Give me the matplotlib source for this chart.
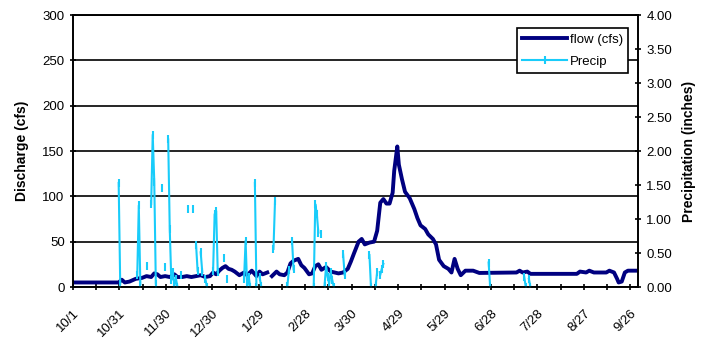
import matplotlib
matplotlib.use("Agg")
import matplotlib.pyplot as plt
import numpy as np

plt.rcParams['font.family'] = ['Liberation Sans', 'DejaVu Sans']

nan = np.nan

# daily flow, water year starting 10/1 (day 0)
flow_day = [0, 29, 31, 33, 36, 40, 44, 47, 50, 52, 54, 56, 59, 62, 65, 67, 70, 73, 76, 79,
            82, 85, 88, 90, 92, 94, 96, 98, 100, 102, 104, 107, 110, 112, 115, 118, 120, 122, 125,
            126.5,
            128, 131, 133, 136, 138, 140, 142, 145, 147, 149, 152, 154, 156, 158, 160, 163, 166,
            171, 174, 177, 179, 181, 184, 186, 188, 191, 194, 196, 198, 200, 202, 204, 206, 207,
            209, 210, 212, 214, 217, 220, 222, 224, 227, 229, 232, 234, 236, 239, 242, 244, 246,
            248, 250, 253, 258, 262, 286, 288, 290, 293, 295, 325, 327, 331, 333, 336, 344, 346,
            349, 351, 352, 354, 356, 358, 364]
flow_cfs = [5, 5, 8, 5, 6, 9, 10, 12, 11, 15, 14, 11, 12, 11, 14, 11, 11, 12, 11, 12,
            13, 11, 12, 16, 14, 18, 21, 23, 20, 19, 17, 13, 16, 13, 18, 12, 17, 14, 16,
            nan,
            12, 17, 14, 13, 16, 26, 29, 31, 24, 21, 14, 15, 23, 25, 19, 22, 17,
            15, 16, 20, 28, 37, 50, 53, 47, 49, 50, 62, 93, 97, 92, 92, 104, 128,
            155, 135, 119, 105, 98, 86, 76, 68, 64, 58, 53, 47, 30, 23, 20, 16, 31,
            20, 13, 18, 18, 15.5, 16, 18, 16, 17, 14.5, 14.5, 17, 16, 18, 16, 16, 18,
            16, 9, 5, 6, 16, 18, 18]

# precipitation, blank days left as gaps
precip_day = [29, 30, nan, 41, 42, 43, nan, 47, nan, 50, 51, 52, 53, nan, 57, nan, 59, nan,
              61, 62, 63, 64, 65, 66, 67, nan, 69, nan, 74, nan, 77, nan, 79, 80, nan,
              82, 83, nan, 85, 86, nan, 90, 91, 92, 93, nan, 97, nan, 99, nan,
              110, 111, 112, 113, 114, nan, 117, 118, nan, 120, 121, nan, 129, 130, nan,
              138, 139, nan, 141, 142, nan, 155, 156, 157, 158, nan, 160, nan,
              162, 163, 164, 165, 166, 167, 168, nan, 174, 175, nan, 191, 192, nan,
              195, 196, nan, 198, 199, 200, nan, 268, 269, nan, 291, 292, nan, 294, 295]
precip_in = [1.53, 0.05, nan, 0.17, 1.20, 0.04, nan, 0.31, nan, 1.22, 2.24, 1.55, 0.05, nan, 1.46, nan, 0.30, nan,
             2.17, 0.85, 0.10, 0.22, 0.02, 0.12, 0.0, nan, 0.17, nan, 1.15, nan, 1.15, nan, 0.62, 0.24, nan,
             0.51, 0.22, nan, 0.12, 0.0, nan, 0.24, 1.07, 1.12, 0.22, nan, 0.42, nan, 0.12, nan,
             0.12, 0.68, 0.0, 0.15, 0.0, nan, 1.53, 0.0, nan, 0.15, 0.02, nan, 0.56, 1.26, nan,
             0.02, 0.25, nan, 0.68, 0.26, nan, 0.0, 1.22, 1.08, 0.80, nan, 0.78, nan,
             0.02, 0.31, 0.15, 0.05, 0.22, 0.10, 0.0, nan, 0.48, 0.18, nan, 0.47, 0.0, nan,
             0.02, 0.22, nan, 0.18, 0.27, 0.34, nan, 0.36, 0.0, nan, 0.15, 0.0, nan, 0.12, 0.0]

date_labels = ['10/1', '10/31', '11/30', '12/30', '1/29', '2/28', '3/30', '4/29', '5/29',
               '6/28', '7/28', '8/27', '9/26']

fig = plt.figure(figsize=(7.01, 3.41), dpi=100)
ax = fig.add_axes([73 / 701, 1 - 287 / 341, 565 / 701, 272 / 341])
ax2 = ax.twinx()

flow_x = np.array(flow_day) + 0.5
rain_x = np.array(precip_day) + 0.5

ax.plot(flow_x, flow_cfs, color='#000080', lw=2.8, solid_joinstyle='round', label='flow (cfs)')
ax2.plot(rain_x, precip_in, color='#19CCFA', lw=1.5, marker='|', markersize=6, mew=1.5,
         label='Precip')

ax.set_xlim(0, 365)
ax.set_ylim(0, 300)
ax2.set_ylim(0, 4)
ax.set_yticks(np.arange(0, 301, 50))
ax2.set_yticks(np.arange(0, 4.01, 0.5))
ax2.set_yticklabels([f'{v:.2f}' for v in np.arange(0, 4.01, 0.5)])

ticks = np.arange(0, 361, 15)
ax.set_xticks(ticks)
ax.set_xticklabels([date_labels[i // 2] if i % 2 == 0 else '' for i in range(len(ticks))],
                   rotation=45, ha='right', rotation_mode='anchor')

ax.yaxis.grid(True, color='black', lw=1.2)
ax.set_axisbelow(True)

for a in (ax, ax2):
    for s in a.spines.values():
        s.set_linewidth(1.2)
        s.set_color('black')
    a.tick_params(direction='inout', length=5, width=1.2, labelsize=9.5, colors='black')
ax.tick_params(axis='x', pad=12, labelsize=9.5)

ax.set_ylabel('Discharge (cfs)', fontsize=10, fontweight='bold', labelpad=10)
ax2.set_ylabel('Precipitation (inches)', fontsize=10, fontweight='bold', labelpad=7)

h1, l1 = ax.get_legend_handles_labels()
h2, l2 = ax2.get_legend_handles_labels()
leg = ax2.legend(h1 + h2, l1 + l2, loc='upper right', bbox_to_anchor=(628 / 701, 1 - 28 / 341),
                 bbox_transform=fig.transFigure, fancybox=False, framealpha=1, edgecolor='black',
                 fontsize=9.5, handlelength=3.4, handletextpad=0.2, borderpad=0.4,
                 labelspacing=0.75, borderaxespad=0, numpoints=1)
leg.get_frame().set_linewidth(1.2)

fig.savefig('out.png', dpi=100)
